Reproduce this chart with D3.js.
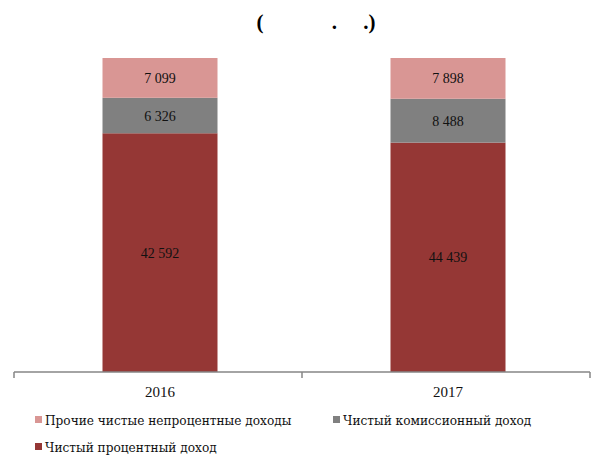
<!DOCTYPE html>
<html>
<head>
<meta charset="utf-8">
<script src="https://cdn.jsdelivr.net/npm/d3@7"></script>
<style>
  body { margin: 0; background: #fff; }
  svg { display: block; font-family: "Times New Roman", "Liberation Serif", "DejaVu Serif", serif; }
  .legend text { font-family: "DejaVu Serif Condensed", "DejaVu Serif", serif; font-stretch: condensed; }
</style>
</head>
<body>
<svg id="chart" width="593" height="461"></svg>
<script>
// Chart data
const years = ['2016', '2017'];
const seriesNames = ['Чистый процентный доход', 'Чистый комиссионный доход', 'Прочие чистые непроцентные доходы'];
const interestIncome = [42592, 44439];
const commissionIncome = [6326, 8488];
const otherIncome = [7099, 7898];
const seriesColors = ['#953735', '#808080', '#d99694'];

const svg = d3.select('#chart');
const margin = { left: 14, right: 3, top: 58, bottom: 89 };
const width = 593, height = 461;

// Build rows for stacking (100% stacked)
const rows = years.map((y, i) => {
    const total = interestIncome[i] + commissionIncome[i] + otherIncome[i];
    return {
        year: y,
        s0: interestIncome[i] / total, s1: commissionIncome[i] / total, s2: otherIncome[i] / total,
        v0: interestIncome[i], v1: commissionIncome[i], v2: otherIncome[i]
    };
});

const stack = d3.stack().keys(['s0', 's1', 's2']);
const stacked = stack(rows);

const x = d3.scaleBand()
    .domain(years)
    .range([margin.left, width - margin.right])
    .paddingInner(0)
    .paddingOuter(0);

const barW = 115;
const y = d3.scaleLinear().domain([0, 1]).range([height - margin.bottom, margin.top]);

// Title (only the punctuation survived in the source image)
svg.append('text')
    .attr('x', 316)
    .attr('y', 29)
    .attr('text-anchor', 'middle')
    .attr('font-size', 21)
    .attr('font-weight', 'bold')
    .attr('xml:space', 'preserve')
    .text('(             .     .)');

// Bars
const fmt = v => d3.format(',')(v).replace(/,/g, ' ');
stacked.forEach((layer, li) => {
    const g = svg.append('g');
    g.selectAll('rect')
        .data(layer)
        .enter()
        .append('rect')
        .attr('x', d => x(d.data.year) + x.bandwidth() / 2 - barW / 2 + 2)
        .attr('width', barW)
        .attr('y', d => y(d[1]))
        .attr('height', d => y(d[0]) - y(d[1]))
        .attr('fill', seriesColors[li]);

    g.selectAll('text')
        .data(layer)
        .enter()
        .append('text')
        .attr('x', d => x(d.data.year) + x.bandwidth() / 2 + 2)
        .attr('y', d => (y(d[0]) + y(d[1])) / 2 + 5)
        .attr('text-anchor', 'middle')
        .attr('font-size', 14)
        .attr('fill', '#111')
        .text(d => fmt(d.data['v' + li]));
});

// X axis
const axisY = height - margin.bottom;
const axis = svg.append('g')
    .attr('transform', `translate(0,${axisY})`);
axis.append('line')
    .attr('x1', margin.left).attr('x2', width - margin.right)
    .attr('stroke', '#868686').attr('stroke-width', 1.5);
const tickXs = years.map(yr => x(yr)).concat([x(years[years.length - 1]) + x.bandwidth()]);
axis.selectAll('.tick')
    .data(tickXs)
    .enter()
    .append('line')
    .attr('x1', d => d).attr('x2', d => d)
    .attr('y1', 0).attr('y2', 6)
    .attr('stroke', '#868686').attr('stroke-width', 1.5);
axis.selectAll('.lbl')
    .data(years)
    .enter()
    .append('text')
    .attr('x', d => x(d) + x.bandwidth() / 2 + 2)
    .attr('y', 25)
    .attr('text-anchor', 'middle')
    .attr('font-size', 15)
    .attr('fill', '#111')
    .text(d => d);

// Legend
const legendItems = [
    { name: seriesNames[2], color: seriesColors[2], x: 35, y: 421 },
    { name: seriesNames[1], color: seriesColors[1], x: 333, y: 421 },
    { name: seriesNames[0], color: seriesColors[0], x: 35, y: 448 }
];
const leg = svg.append('g').attr('class', 'legend').selectAll('g')
    .data(legendItems)
    .enter()
    .append('g')
    .attr('transform', d => `translate(${d.x},${d.y})`);
leg.append('rect')
    .attr('x', 0).attr('y', -5)
    .attr('width', 7).attr('height', 7)
    .attr('fill', d => d.color);
leg.append('text')
    .attr('x', 10)
    .attr('y', 4)
    .attr('font-size', 13.5)
    .attr('fill', '#111')
    .text(d => d.name);
</script>
</body>
</html>
